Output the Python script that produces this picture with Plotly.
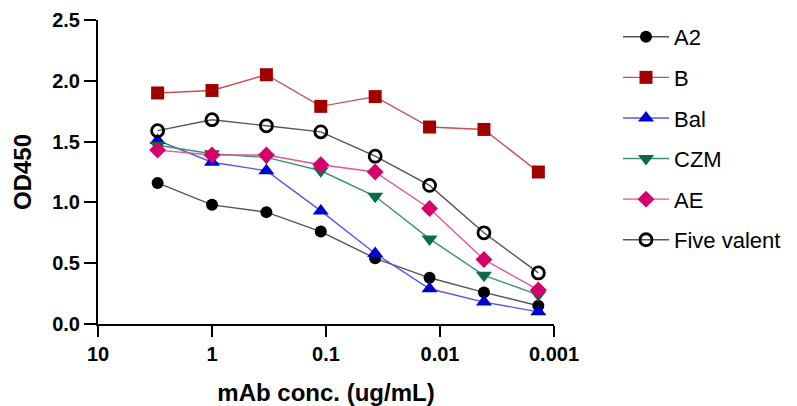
import plotly.graph_objects as go

conc = [3, 1, 0.3333, 0.1111, 0.03704, 0.01235, 0.004115, 0.001372]
series_names = ["A2", "B", "Bal", "CZM", "AE", "Five valent"]
a2 = [1.16, 0.98, 0.92, 0.76, 0.54, 0.38, 0.26, 0.15]
b = [1.90, 1.92, 2.05, 1.79, 1.87, 1.62, 1.60, 1.25]
bal = [1.51, 1.33, 1.26, 0.93, 0.58, 0.29, 0.18, 0.10]
czm = [1.47, 1.40, 1.37, 1.26, 1.05, 0.70, 0.40, 0.24]
ae = [1.43, 1.39, 1.39, 1.31, 1.25, 0.95, 0.53, 0.28]
five = [1.59, 1.68, 1.63, 1.58, 1.38, 1.14, 0.75, 0.42]
x_tickvals = [10, 1, 0.1, 0.01, 0.001]
x_ticktext = ["10", "1", "0.1", "0.01", "0.001"]
y_tickvals = [0, 0.5, 1.0, 1.5, 2.0, 2.5]
y_ticktext = ["0.0", "0.5", "1.0", "1.5", "2.0", "2.5"]

styles = [
    (a2, "circle", "#000000", "#555555", 12),
    (b, "square", "#A00000", "#C85050", 13),
    (bal, "triangle-up", "#0000CC", "#5555EE", 14),
    (czm, "triangle-down", "#0B6B48", "#3E9270", 14),
    (ae, "diamond", "#D4006C", "#E2559A", 13),
    (five, "circle-open", "#000000", "#555555", 12),
]

fig = go.Figure()
for name, (vals, sym, mc, lc, sz) in zip(series_names, styles):
    marker = dict(symbol=sym, color=mc, size=sz)
    if sym == "circle-open":
        marker["line"] = dict(color=mc, width=2.8)
    else:
        marker["line"] = dict(width=0)
    fig.add_trace(go.Scatter(
        x=conc, y=vals, name=name, mode="lines+markers",
        line=dict(color=lc, width=1.4), marker=marker,
        legendgroup=name,
    ))

FONT = "Liberation Sans, Arial"
title_font = dict(family=FONT, size=24, color="#000000", weight="bold")
tick_font = dict(family=FONT, size=20, color="#000000", weight="bold")
fig.update_layout(
    width=789, height=398,
    margin=dict(l=90, r=243, t=12, b=82, autoexpand=False),
    paper_bgcolor="white", plot_bgcolor="white",
    font=dict(family=FONT, color="#000000"),
    showlegend=True,
    legend=dict(x=610 / 789, xref="container", xanchor="left",
                y=0.98, yref="container", yanchor="top",
                maxheight=398,
                font=dict(family=FONT, size=22, color="#000000"),
                tracegroupgap=9, itemwidth=46,
                bgcolor="rgba(0,0,0,0)"),
    xaxis=dict(
        type="log", range=[1, -3], autorange=False, automargin=False,
        tickvals=x_tickvals, ticktext=x_ticktext, ticklabeloverflow="allow",
        ticks="outside", ticklen=11, tickwidth=2, tickcolor="#000000",
        showline=True, linewidth=2, linecolor="#000000",
        showgrid=False, zeroline=False,
        tickfont=tick_font,
        title=dict(text="mAb conc. (ug/mL)", font=title_font, standoff=20),
    ),
    yaxis=dict(
        range=[0, 2.5], autorange=False, automargin=False,
        tickvals=y_tickvals, ticktext=y_ticktext, ticklabeloverflow="allow",
        ticks="outside", ticklen=12, tickwidth=2, tickcolor="#000000",
        showline=True, linewidth=2, linecolor="#000000",
        showgrid=False, zeroline=False,
        tickfont=tick_font,
        title=dict(text="OD450", font=title_font, standoff=14),
    ),
)
fig.write_html("out.html")
